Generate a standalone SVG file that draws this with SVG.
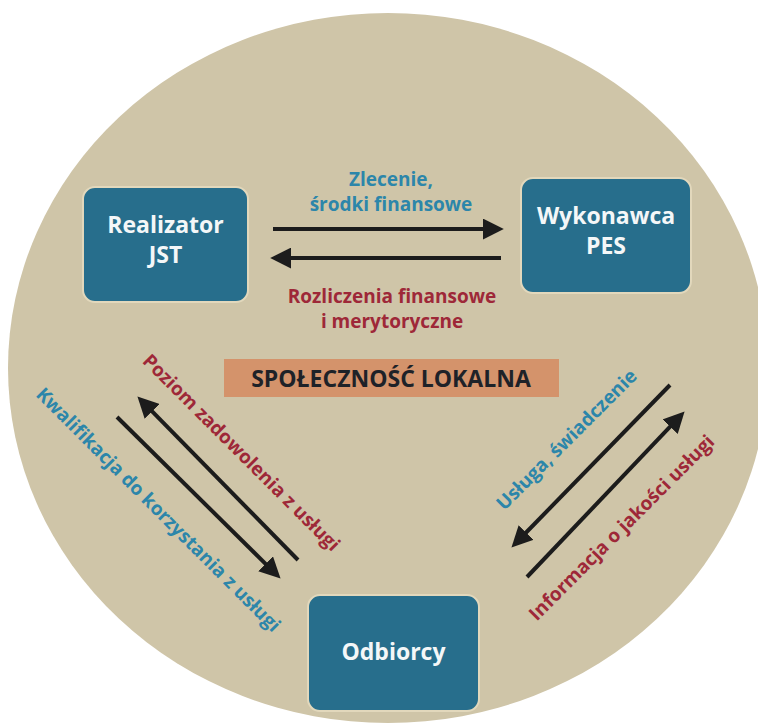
<svg xmlns="http://www.w3.org/2000/svg" width="758" height="726" viewBox="0 0 758 726">
  <style>
    .box { fill: #276E8C; stroke: #E2D8BC; stroke-width: 2; }
    .boxtxt { font-family: "Open Sans", "Liberation Sans", sans-serif; font-weight: 700; font-size: 23px; fill: #F4F7F8; text-anchor: middle; }
    .lbl { font-family: "Open Sans", "Liberation Sans", sans-serif; font-weight: 700; font-size: 19px; text-anchor: middle; }
    .blue { fill: #2C86AA; }
    .red { fill: #9E2838; }
    .arrow { stroke: #1C1C1C; stroke-width: 4; fill: none; marker-end: url(#head); }
    .banner { fill: #D4936B; }
    .bannertxt { font-family: "Open Sans", "Liberation Sans", sans-serif; font-weight: 700; font-size: 23px; fill: #1E2228; text-anchor: middle; }
  </style>
  <defs>
    <marker id="head" viewBox="0 0 20 20" markerWidth="21" markerHeight="21" refX="4" refY="10" orient="auto" markerUnits="userSpaceOnUse">
      <path d="M0,0 L20,10 L0,20 Z" fill="#1C1C1C"/>
    </marker>
  </defs>

  <rect width="758" height="726" fill="#FFFFFF"/>
  <!-- community background -->
  <ellipse id="background" cx="388" cy="368" rx="380" ry="355" fill="#CFC5A8"/>

  <!-- connectors -->
  <g id="connectors">
    <line class="arrow" x1="273" y1="229" x2="487" y2="229"/>
    <line class="arrow" x1="501" y1="258" x2="287" y2="258"/>
    <line class="arrow" x1="298" y1="560" x2="149.2" y2="408.4"/>
    <line class="arrow" x1="117" y1="417" x2="268.6" y2="566.8"/>
    <line class="arrow" x1="670" y1="385" x2="523.2" y2="535.5"/>
    <line class="arrow" x1="527" y1="577" x2="673" y2="423.6"/>
  </g>

  <!-- connector labels -->
  <g id="labels">
    <text class="lbl blue" x="391" y="186">Zlecenie,</text>
    <text class="lbl blue" x="391" y="211">środki finansowe</text>
    <text class="lbl red" x="392" y="303">Rozliczenia finansowe</text>
    <text class="lbl red" x="392" y="328">i merytoryczne</text>
    <text class="lbl red" transform="translate(241,453) rotate(45)" y="6">Poziom zadowolenia z usługi</text>
    <text class="lbl blue" transform="translate(158,510) rotate(45)" y="6">Kwalifikacja do korzystania z usługi</text>
    <text class="lbl blue" transform="translate(567,440) rotate(-45)" y="6">Usługa, świadczenie</text>
    <text class="lbl red" transform="translate(622,528) rotate(-45)" y="6">Informacja o jakości usługi</text>
  </g>

  <g id="spolecznosc">
    <rect class="banner" x="224" y="359" width="335" height="38"/>
    <text class="bannertxt" x="391" y="387">SPOŁECZNOŚĆ LOKALNA</text>
  </g>

  <g id="realizator">
    <rect class="box" x="83" y="187" width="165" height="115" rx="12"/>
    <text class="boxtxt" x="165.5" y="233">Realizator</text>
    <text class="boxtxt" x="165.5" y="263">JST</text>
  </g>

  <g id="wykonawca">
    <rect class="box" x="521" y="178" width="170" height="115" rx="12"/>
    <text class="boxtxt" x="606" y="224">Wykonawca</text>
    <text class="boxtxt" x="606" y="254">PES</text>
  </g>

  <g id="odbiorcy">
    <rect class="box" x="308" y="595" width="171" height="116" rx="12"/>
    <text class="boxtxt" x="393.5" y="660">Odbiorcy</text>
  </g>
</svg>
